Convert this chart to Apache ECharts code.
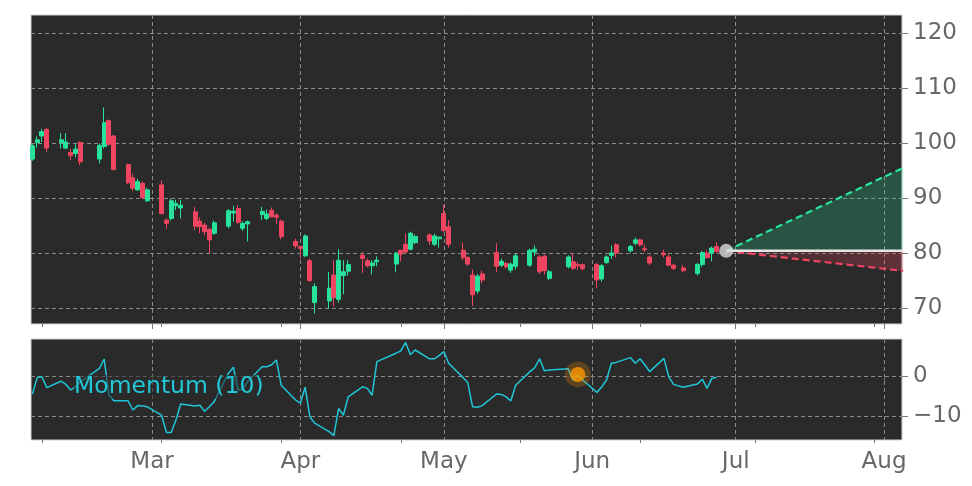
<!DOCTYPE html>
<html>
<head>
<meta charset="utf-8">
<script src="https://cdn.jsdelivr.net/npm/echarts@6/dist/echarts.min.js"></script>
<style>
  html, body { margin: 0; padding: 0; background: #fff; }
  #chart { width: 972px; height: 486px; }
</style>
</head>
<body>
<div id="chart"></div>
<script>
// trading days shown in the chart
var dates = [
  '2025-02-04','2025-02-05','2025-02-06','2025-02-07','2025-02-10','2025-02-11','2025-02-12','2025-02-13','2025-02-14',
  '2025-02-18','2025-02-19','2025-02-20','2025-02-21','2025-02-24','2025-02-25','2025-02-26','2025-02-27','2025-02-28',
  '2025-03-03','2025-03-04','2025-03-05','2025-03-06','2025-03-07','2025-03-10','2025-03-11','2025-03-12','2025-03-13','2025-03-14',
  '2025-03-17','2025-03-18','2025-03-19','2025-03-20','2025-03-21','2025-03-24','2025-03-25','2025-03-26','2025-03-27','2025-03-28',
  '2025-03-31','2025-04-01','2025-04-02','2025-04-03','2025-04-04','2025-04-07','2025-04-08','2025-04-09','2025-04-10','2025-04-11',
  '2025-04-14','2025-04-15','2025-04-16','2025-04-17','2025-04-21','2025-04-22','2025-04-23','2025-04-24','2025-04-25',
  '2025-04-28','2025-04-29','2025-04-30','2025-05-01','2025-05-02','2025-05-05','2025-05-06','2025-05-07','2025-05-08','2025-05-09',
  '2025-05-12','2025-05-13','2025-05-14','2025-05-15','2025-05-16','2025-05-19','2025-05-20','2025-05-21','2025-05-22','2025-05-23',
  '2025-05-27','2025-05-28','2025-05-29','2025-05-30','2025-06-02','2025-06-03','2025-06-04','2025-06-05','2025-06-06',
  '2025-06-09','2025-06-10','2025-06-11','2025-06-12','2025-06-13','2025-06-16','2025-06-17','2025-06-18','2025-06-20',
  '2025-06-23','2025-06-24','2025-06-25','2025-06-26','2025-06-27'
];
var openVals = [
  97.1,100.1,101.3,102.5,100.1,99.1,98.3,98.1,100.1,
  97.1,99.4,104.1,101.3,96.1,93.7,91.5,92.7,89.5,
  92.4,86.0,86.3,88.6,88.2,87.5,85.8,85.1,84.3,83.6,
  84.9,87.3,88.1,84.5,85.3,87.0,86.3,87.8,86.9,85.8,
  82.1,81.2,79.5,78.6,71.0,71.3,76.0,71.6,75.9,76.7,
  79.6,78.6,77.7,78.4,78.0,80.5,81.6,80.7,81.9,
  83.3,81.6,82.6,87.2,84.8,80.5,79.2,76.0,73.1,76.2,
  80.1,77.8,78.1,76.9,77.6,77.8,80.2,79.3,79.4,75.4,
  77.5,78.4,77.9,77.9,77.9,75.3,78.3,79.6,81.5,
  80.4,81.8,82.4,80.8,79.3,80.0,79.3,77.8,77.3,
  76.3,77.9,80.0,80.0,81.2
];
var closeVals = [
  99.5,100.6,102.1,99.1,100.6,100.2,97.7,98.9,96.6,
  99.6,103.7,99.8,95.2,92.8,91.8,93.0,90.1,91.5,
  87.2,85.4,89.5,89.0,88.7,84.9,84.8,83.9,82.4,85.5,
  87.7,87.6,85.6,85.4,85.7,87.6,87.1,86.6,86.5,83.0,
  81.3,80.8,83.1,75.0,73.9,73.6,71.9,78.7,76.6,77.9,
  79.0,77.7,78.2,78.7,80.0,79.8,80.2,83.6,83.0,
  82.2,83.1,82.9,84.1,81.6,79.2,78.0,72.4,75.8,75.1,
  77.6,78.5,77.5,78.0,79.5,80.5,80.7,76.6,76.8,76.6,
  79.3,77.2,77.7,77.2,75.1,77.7,79.3,80.0,80.0,
  81.2,82.4,81.5,80.6,78.2,79.7,77.8,77.2,76.8,
  77.9,80.1,79.2,80.9,80.3
];
var lowVals = [
  96.8,99.2,100.2,98.4,99.0,98.9,96.9,97.4,96.0,
  96.3,99.0,99.5,95.0,92.5,91.3,91.3,89.8,89.3,
  87.0,84.4,85.9,87.8,86.3,84.2,83.6,83.2,80.0,83.3,
  84.5,85.7,85.3,84.0,82.1,86.0,86.0,86.5,85.2,82.5,
  80.8,79.0,79.3,74.8,69.0,69.9,70.3,71.0,72.5,75.9,
  76.4,77.4,76.1,77.6,76.5,78.5,80.0,80.5,81.6,
  81.5,81.3,81.0,83.8,81.0,78.7,77.7,70.4,72.6,74.5,
  76.5,77.5,77.2,76.4,77.0,77.5,79.5,76.2,76.1,75.1,
  77.2,76.9,76.9,76.8,73.6,74.8,78.0,78.9,79.2,
  80.1,81.4,81.2,80.2,77.8,79.2,77.6,76.9,76.5,
  75.9,77.5,79.0,78.5,80.0
];
var highVals = [
  99.8,101.2,102.6,102.7,101.8,101.8,99.0,99.8,100.3,
  99.9,106.5,104.3,101.5,96.3,94.4,93.5,93.0,91.9,
  93.2,86.3,89.9,89.7,89.7,88.4,86.5,85.5,84.6,85.9,
  88.0,88.6,88.7,85.8,85.9,88.4,87.9,88.3,87.3,86.1,
  82.6,81.3,83.4,79.0,74.5,76.6,78.7,80.7,78.7,78.7,
  80.2,79.0,78.7,79.4,80.2,80.6,83.6,83.9,83.4,
  83.6,83.5,83.0,88.8,86.0,81.9,79.4,77.0,76.2,76.8,
  81.8,79.0,78.4,78.3,79.9,80.8,81.4,79.6,79.7,76.9,
  79.6,80.0,78.4,78.1,78.2,78.0,79.6,81.4,81.8,
  81.5,82.8,82.6,81.5,79.6,80.6,79.8,78.1,77.8,
  78.2,80.4,80.5,81.2,82.0
];
var momentumVals = [
  -4.5,-0.4,-0.2,-2.9,-1.3,-2.1,-3.5,-2.7,-1.5,
  1.9,4.2,-4.7,-6.2,-6.2,-8.5,-7.4,-7.5,-7.7,
  -9.8,-14.1,-14.1,-11.0,-7.0,-7.5,-7.3,-8.8,-7.7,-6.4,
  0.7,2.2,-3.5,-3.3,-1.4,2.3,2.3,2.8,4.0,-2.3,
  -6.0,-6.8,-2.8,-10.2,-11.8,-13.9,-14.9,-8.1,-9.8,-5.2,
  -2.7,-3.1,-4.8,3.6,5.7,6.3,8.4,5.3,6.5,
  4.3,4.3,5.1,6.1,3.2,-0.4,-1.7,-7.7,-7.8,-7.4,
  -4.5,-4.6,-5.2,-6.2,-2.3,1.1,2.1,4.3,1.3,1.5,
  1.8,-1.0,0.4,-1.0,-4.1,-2.7,-1.0,3.2,3.4,
  4.6,3.2,4.3,2.8,1.1,4.4,-0.2,-2.1,-2.8,
  -2.0,-0.8,-3.1,-0.6,-0.3
];
var highlightDate = '2025-05-29';

// forecast cone
var forecastDates = ['2025-06-29', '2025-08-05'];
var forecastUpper = [80.4, 95.5];
var forecastMid = [80.4, 80.4];
var forecastLower = [80.4, 76.75];

// axes
var xStart = '2025-02-03T17:00:00';
var xEnd = '2025-08-04T18:00:00';
var monthStarts = ['2025-03-01','2025-04-01','2025-05-01','2025-06-01','2025-07-01','2025-08-01'];
var monthLabels = ['Mar','Apr','May','Jun','Jul','Aug'];
var minorTicks = ['2025-02-06','2025-03-03','2025-03-28','2025-04-22','2025-05-17','2025-06-11','2025-07-05','2025-07-30'];
var priceTicks = [70, 80, 90, 100, 110, 120];
var momentumTicks = [-10, 0];

var upColor = '#27e39b';
var downColor = '#ef4560';
var gridLine = { show: true, lineStyle: { color: '#8a8a8a', type: [4, 3], width: 1 } };
var labelFont = { color: '#686868', fontSize: 23, fontFamily: 'DejaVu Sans' };

function t(d) { return echarts.time.parse(d).getTime(); }
var monthTimes = monthStarts.map(t);
var minorTimes = minorTicks.map(t);

var candleData = dates.map(function (d, i) {
    return [t(d), openVals[i], closeVals[i], lowVals[i], highVals[i]];
});
var momData = dates.map(function (d, i) { return [t(d), momentumVals[i]]; });
var hi = dates.indexOf(highlightDate);

// date axis as a numeric axis in ms, ticks only at month starts
function timeAxis(gridIndex, withLabels) {
    return {
        type: 'value', gridIndex: gridIndex, min: t(xStart), max: t(xEnd),
        axisLine: { show: false },
        axisTick: { show: true, customValues: monthTimes, length: 5, lineStyle: { color: '#777' } },
        axisLabel: Object.assign({
            show: withLabels, customValues: monthTimes, margin: 11,
            formatter: function (v) {
                var k = monthTimes.indexOf(+v);
                return k >= 0 ? monthLabels[k] : '';
            }
        }, labelFont),
        splitLine: gridLine
    };
}
function minorAxis(gridIndex) {
    return {
        type: 'value', gridIndex: gridIndex, min: t(xStart), max: t(xEnd), position: 'bottom',
        axisLine: { show: false },
        axisTick: { show: true, customValues: minorTimes, length: 3, lineStyle: { color: '#777' } },
        axisLabel: { show: false }, splitLine: { show: false }
    };
}

var chart = echarts.init(document.getElementById('chart'), null, { renderer: 'canvas' });
chart.setOption({
    animation: false,
    backgroundColor: '#ffffff',
    grid: [
        { left: 31, right: 70, top: 15, height: 309, show: true, backgroundColor: '#2a2a2a', borderColor: '#d0d0d0', borderWidth: 1 },
        { left: 31, right: 70, top: 339, height: 101, show: true, backgroundColor: '#2a2a2a', borderColor: '#d0d0d0', borderWidth: 1 }
    ],
    xAxis: [timeAxis(0, false), timeAxis(1, true), minorAxis(0), minorAxis(1)],
    yAxis: [
        {
            type: 'value', gridIndex: 0, position: 'right', min: 67.1, max: 123.3,
            axisLine: { show: false },
            axisTick: { show: true, customValues: priceTicks, length: 6, lineStyle: { color: '#777' } },
            axisLabel: Object.assign({ customValues: priceTicks, margin: 11 }, labelFont),
            splitLine: gridLine
        },
        {
            type: 'value', gridIndex: 1, position: 'right', min: -16, max: 9.25,
            axisLine: { show: false },
            axisTick: { show: true, customValues: momentumTicks, length: 6, lineStyle: { color: '#777' } },
            axisLabel: Object.assign({
                customValues: momentumTicks, margin: 11,
                formatter: function (v) { return v < 0 ? '\u2212' + Math.abs(v) : String(v); }
            }, labelFont),
            splitLine: gridLine
        }
    ],
    series: [
        {
            type: 'candlestick', xAxisIndex: 0, yAxisIndex: 0,
            data: candleData, encode: { x: 0, y: [1, 2, 3, 4] },
            barWidth: 4.5,
            itemStyle: { color: upColor, color0: downColor, borderColor: upColor, borderColor0: downColor, borderWidth: 1 }
        },
        {
            type: 'line', xAxisIndex: 0, yAxisIndex: 0, symbol: 'none', z: 3,
            data: forecastDates.map(function (d, i) { return [t(d), forecastUpper[i]]; }),
            lineStyle: { color: upColor, width: 2.2, type: [7, 4] },
            areaStyle: { origin: forecastMid[0], color: 'rgba(39,227,155,0.32)' }
        },
        {
            type: 'line', xAxisIndex: 0, yAxisIndex: 0, symbol: 'none', z: 3,
            data: forecastDates.map(function (d, i) { return [t(d), forecastLower[i]]; }),
            lineStyle: { color: downColor, width: 2.2, type: [7, 4] },
            areaStyle: {
                origin: forecastMid[0],
                color: new echarts.graphic.LinearGradient(0, 0, 1, 0, [
                    { offset: 0, color: 'rgba(239,69,96,0.15)' },
                    { offset: 1, color: 'rgba(239,69,96,0.4)' }
                ])
            }
        },
        {
            type: 'line', xAxisIndex: 0, yAxisIndex: 0, symbol: 'none', z: 4,
            data: forecastDates.map(function (d, i) { return [t(d), forecastMid[i]]; }),
            lineStyle: { color: '#e6e6e6', width: 2.5 }
        },
        {
            type: 'scatter', xAxisIndex: 0, yAxisIndex: 0, z: 5,
            data: [[t(forecastDates[0]), forecastMid[0]]],
            symbolSize: 14, itemStyle: { color: '#d9d9d9' }
        },
        {
            type: 'line', xAxisIndex: 1, yAxisIndex: 1, symbol: 'none',
            data: momData, lineStyle: { color: '#1fc6d8', width: 1.5 }
        },
        {
            type: 'scatter', xAxisIndex: 1, yAxisIndex: 1, z: 5,
            data: [[t(dates[hi]), momentumVals[hi]]],
            symbolSize: 26, itemStyle: { color: 'rgba(255,153,0,0.3)' }
        },
        {
            type: 'scatter', xAxisIndex: 1, yAxisIndex: 1, z: 6,
            data: [[t(dates[hi]), momentumVals[hi]]],
            symbolSize: 15, itemStyle: { color: '#ff9900' }
        }
    ],
    graphic: [
        {
            type: 'text', left: 74, top: 375, z: 100,
            style: {
                text: 'Momentum (10)', fill: '#22c8d8',
                font: '23.5px "DejaVu Sans"',
                backgroundColor: 'rgba(42,42,42,0.55)'
            }
        }
    ]
});
</script>
</body>
</html>
